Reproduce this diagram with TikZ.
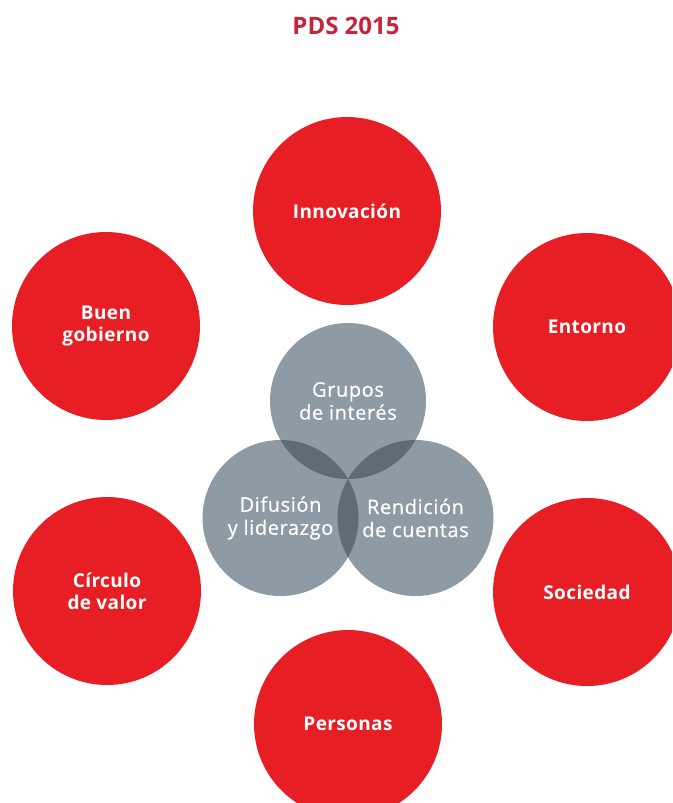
\documentclass[tikz,border=0pt]{standalone}
\usepackage{fontspec}
\setmainfont{Open Sans}
\definecolor{pdsred}{HTML}{E81E25}
\definecolor{pdsgray}{HTML}{8E9BA4}
\definecolor{pdsdark}{HTML}{5F6C75}
\definecolor{titlered}{HTML}{C8233A}
\begin{document}
\begin{tikzpicture}[x=1pt,y=-1pt,
  redc/.style={circle, fill=pdsred, minimum size=188pt, inner sep=0pt, text=white,
    font=\bfseries\fontsize{19}{22}\selectfont\addfontfeature{LetterSpace=2}, align=center},
  grayc/.style={circle, fill=pdsgray, minimum size=156pt, inner sep=0pt},
  graytext/.style={text=white, font=\fontsize{20}{23}\selectfont\addfontfeature{LetterSpace=3,FakeBold=0.6}, align=center},
  lens/.style={fill=pdsdark}]
\useasboundingbox (0,0) rectangle (672,803);
\clip (0,0) rectangle (672,803);
\node[text=titlered, font=\bfseries\fontsize{24}{28}\selectfont] (title) at (346,26) {PDS 2015};

\node[redc] (innov) at (347,211) {Innovación};
\node[redc] (buen) at (106,326) {Buen\\gobierno};
\node[redc] (entorno) at (587,327) {Entorno};
\node[redc] (circulo) at (107,591) {Círculo\\de valor};
\node[redc] (sociedad) at (587,592) {Sociedad};
\node[redc] (personas) at (348,724) {Personas};

\coordinate (g) at (348,401);
\coordinate (d) at (280.5,518);
\coordinate (r) at (415.5,518);
\node[grayc] (grupos) at (g) {};
\node[grayc] (difusion) at (d) {};
\node[grayc] (rendicion) at (r) {};
\begin{scope}
  \clip (g) circle (78pt);
  \fill[lens] (d) circle (78pt);
  \fill[lens] (r) circle (78pt);
\end{scope}
\begin{scope}
  \clip (d) circle (78pt);
  \fill[lens] (r) circle (78pt);
\end{scope}
\node[graytext] (tg) at (g) {Grupos\\de interés};
\node[graytext] (td) at (d) {Difusión\\y liderazgo};
\node[graytext] (tr) at (r) {Rendición\\de cuentas};
\end{tikzpicture}
\end{document}
